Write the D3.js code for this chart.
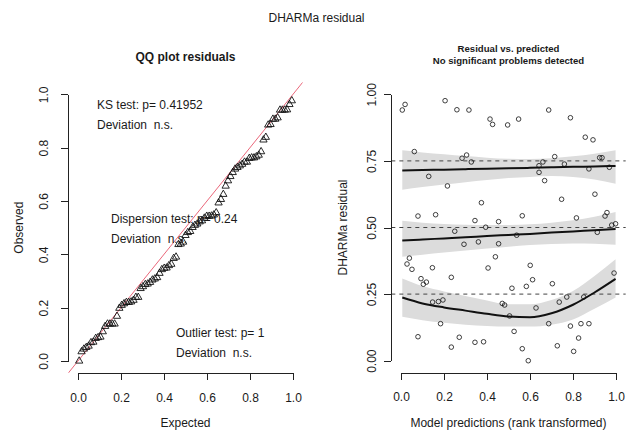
<!DOCTYPE html>
<html lang="en">

<head>
    <meta charset="UTF-8">
    <title>DHARMa residual</title>
    <script src="https://d3js.org/d3.v7.min.js"></script>
    <style>
        body {
            margin: 0;
            background: white;
        }

        svg text {
            font-family: "Liberation Sans", Arial, sans-serif;
            fill: #1a1a1a;
        }

        .axis path,
        .axis line {
            stroke: #222;
            stroke-width: 1;
            shape-rendering: crispEdges;
        }

        .axis text {
            font-size: 12px;
        }
    </style>
</head>

<body>
    <div id="chart"></div>
    <script>
        const width = 633;
        const height = 430;

        // model predictions (rank transformed) and scaled residuals, one entry per observation
        const predictions = [0.006, 0.019, 0.062, 0.079, 0.028, 0.039, 0.051, 0.093, 0.104, 0.118,
            0.079, 0.129, 0.146, 0.147, 0.161, 0.174, 0.195, 0.184, 0.205, 0.216,
            0.234, 0.234, 0.250, 0.260, 0.271, 0.284, 0.293, 0.305, 0.327, 0.316,
            0.344, 0.360, 0.344, 0.374, 0.384, 0.394, 0.405, 0.414, 0.426, 0.439,
            0.454, 0.454, 0.471, 0.482, 0.496, 0.505, 0.516, 0.526, 0.538, 0.547,
            0.564, 0.564, 0.583, 0.592, 0.601, 0.612, 0.628, 0.642, 0.642, 0.660,
            0.668, 0.687, 0.687, 0.704, 0.715, 0.727, 0.736, 0.747, 0.760, 0.771,
            0.788, 0.788, 0.803, 0.816, 0.826, 0.837, 0.850, 0.857, 0.874, 0.874,
            0.893, 0.902, 0.913, 0.924, 0.935, 0.949, 0.958, 0.969, 0.980, 0.998, 0.991];
        const residuals = [0.941, 0.962, 0.785, 0.543, 0.363, 0.385, 0.343, 0.308, 0.287, 0.295,
            0.090, 0.692, 0.349, 0.220, 0.548, 0.222, 0.228, 0.139, 0.976, 0.656,
            0.313, 0.051, 0.486, 0.942, 0.088, 0.760, 0.437, 0.772, 0.746, 0.941,
            0.526, 0.446, 0.069, 0.593, 0.071, 0.501, 0.348, 0.907, 0.887, 0.390,
            0.522, 0.439, 0.215, 0.209, 0.885, 0.168, 0.272, 0.110, 0.471, 0.907,
            0.544, 0.045, 0.279, 0.000, 0.358, 0.304, 0.198, 0.732, 0.707, 0.746,
            0.676, 0.941, 0.139, 0.289, 0.766, 0.056, 0.220, 0.606, 0.738, 0.239,
            0.912, 0.130, 0.035, 0.536, 0.085, 0.139, 0.239, 0.839, 0.720, 0.139,
            0.829, 0.625, 0.482, 0.762, 0.762, 0.543, 0.556, 0.726, 0.509, 0.514, 0.329];

        // quantile regression fits (0.25, 0.5, 0.75) with confidence bands
        const fitGrid = [0.006, 0.1, 0.2, 0.3, 0.4, 0.5, 0.6, 0.7, 0.8, 0.9, 0.998];
        const q25Fit = [0.237, 0.215, 0.200, 0.188, 0.176, 0.166, 0.163, 0.178, 0.210, 0.256, 0.307];
        const q25Hi = [0.309, 0.280, 0.260, 0.243, 0.226, 0.212, 0.212, 0.228, 0.262, 0.318, 0.381];
        const q25Lo = [0.165, 0.152, 0.142, 0.135, 0.130, 0.128, 0.128, 0.135, 0.155, 0.195, 0.237];
        const q50Fit = [0.451, 0.455, 0.459, 0.463, 0.468, 0.472, 0.476, 0.481, 0.485, 0.490, 0.494];
        const q50Hi = [0.525, 0.518, 0.513, 0.510, 0.509, 0.509, 0.512, 0.518, 0.527, 0.540, 0.558];
        const q50Lo = [0.390, 0.398, 0.406, 0.414, 0.421, 0.428, 0.434, 0.438, 0.440, 0.439, 0.435];
        const q75Fit = [0.714, 0.716, 0.717, 0.719, 0.721, 0.722, 0.724, 0.726, 0.728, 0.729, 0.731];
        const q75Hi = [0.790, 0.782, 0.775, 0.768, 0.762, 0.758, 0.757, 0.760, 0.767, 0.777, 0.790];
        const q75Lo = [0.642, 0.652, 0.661, 0.670, 0.678, 0.686, 0.690, 0.693, 0.690, 0.680, 0.664];
        const quantileLevels = [0.25, 0.5, 0.75];

        const qqTicks = [0, 0.2, 0.4, 0.6, 0.8, 1];
        const resYTicks = [0, 0.25, 0.5, 0.75, 1];

        const qqTests = [
            ["KS test: p= 0.41952", "Deviation  n.s."],
            ["Dispersion test: p= 0.24", "Deviation  n.s."],
            ["Outlier test: p= 1", "Deviation  n.s."]
        ];

        const svg = d3.select("#chart")
            .append("svg")
            .attr("width", width)
            .attr("height", height);

        // main title
        svg.append("text")
            .attr("x", width / 2)
            .attr("y", 22)
            .attr("text-anchor", "middle")
            .style("font-size", "12px")
            .text("DHARMa residual");

        // ---------- left panel: QQ plot ----------
        const xL = d3.scaleLinear().domain([0, 1]).range([78, 293]);
        const yL = d3.scaleLinear().domain([0, 1]).range([361, 94.3]);
        const padL = 0.045;

        svg.append("text")
            .attr("x", 185.5)
            .attr("y", 61)
            .attr("text-anchor", "middle")
            .style("font-size", "12px")
            .style("font-weight", "bold")
            .text("QQ plot residuals");

        svg.append("defs").append("clipPath")
            .attr("id", "clipL")
            .append("rect")
            .attr("x", xL(-padL))
            .attr("y", yL(1 + padL))
            .attr("width", xL(1 + padL) - xL(-padL))
            .attr("height", yL(-padL) - yL(1 + padL));

        // 1:1 line
        svg.append("line")
            .attr("clip-path", "url(#clipL)")
            .attr("x1", xL(-0.1)).attr("y1", yL(-0.1))
            .attr("x2", xL(1.1)).attr("y2", yL(1.1))
            .attr("stroke", "#e8566b")
            .attr("stroke-width", 0.9);

        const observed = residuals.slice().sort(d3.ascending);
        const n = observed.length;
        const tri = d3.symbol().type(d3.symbolTriangle).size(23);

        svg.append("g")
            .selectAll("path")
            .data(observed)
            .join("path")
            .attr("d", tri)
            .attr("transform", (d, i) => `translate(${xL((i + 0.5) / n)},${yL(d)})`)
            .attr("fill", "none")
            .attr("stroke", "#111")
            .attr("stroke-width", 0.9);

        const legendPos = [[97, 109], [111, 223], [176, 337]];
        qqTests.forEach((lines, k) => {
            lines.forEach((t, j) => {
                svg.append("text")
                    .attr("x", legendPos[k][0])
                    .attr("y", legendPos[k][1] + j * 20)
                    .style("font-size", "12px")
                    .style("white-space", "pre")
                    .text(t);
            });
        });

        svg.append("g")
            .attr("class", "axis")
            .attr("transform", `translate(0,${yL(-padL)})`)
            .call(d3.axisBottom(xL).tickValues(qqTicks).tickSize(7).tickSizeOuter(0)
                .tickPadding(13).tickFormat(d3.format(".1f")));

        const axisLeftL = svg.append("g")
            .attr("class", "axis")
            .attr("transform", `translate(${xL(-padL)},0)`)
            .call(d3.axisLeft(yL).tickValues(qqTicks).tickSize(7).tickSizeOuter(0)
                .tickFormat(d3.format(".1f")));
        axisLeftL.selectAll("text")
            .attr("x", null).attr("dy", null)
            .attr("text-anchor", "middle")
            .attr("transform", "translate(-20.5,0) rotate(-90)");

        svg.append("text")
            .attr("x", 185.5)
            .attr("y", 427)
            .attr("text-anchor", "middle")
            .style("font-size", "12px")
            .text("Expected");

        svg.append("text")
            .attr("transform", `translate(22.5,${yL(0.5)}) rotate(-90)`)
            .attr("text-anchor", "middle")
            .style("font-size", "12px")
            .text("Observed");

        // ---------- right panel: residual vs predicted ----------
        const xR = d3.scaleLinear().domain([0, 1]).range([401, 616]);
        const yR = d3.scaleLinear().domain([0, 1]).range([360.7, 94.3]);

        svg.append("text")
            .attr("x", 508.5)
            .attr("y", 51.5)
            .attr("text-anchor", "middle")
            .style("font-size", "9.6px")
            .style("font-weight", "bold")
            .text("Residual vs. predicted");
        svg.append("text")
            .attr("x", 508.5)
            .attr("y", 63.5)
            .attr("text-anchor", "middle")
            .style("font-size", "9.6px")
            .style("font-weight", "bold")
            .text("No significant problems detected");

        const bands = [[q25Lo, q25Hi], [q50Lo, q50Hi], [q75Lo, q75Hi]];
        const area = d3.area()
            .x((d, i) => xR(fitGrid[i]))
            .y0(d => yR(d[0]))
            .y1(d => yR(d[1]))
            .curve(d3.curveMonotoneX);

        svg.append("g")
            .selectAll("path")
            .data(bands)
            .join("path")
            .attr("d", b => area(b[0].map((lo, i) => [lo, b[1][i]])))
            .attr("fill", "#dcdcdc");

        svg.append("g")
            .selectAll("line")
            .data(quantileLevels)
            .join("line")
            .attr("x1", xR(-0.045))
            .attr("x2", xR(1.045))
            .attr("y1", d => yR(d))
            .attr("y2", d => yR(d))
            .attr("stroke", "#444")
            .attr("stroke-width", 1)
            .attr("stroke-dasharray", "4,4");

        const fitLine = d3.line()
            .x((d, i) => xR(fitGrid[i]))
            .y(d => yR(d))
            .curve(d3.curveMonotoneX);

        svg.append("g")
            .selectAll("path")
            .data([q25Fit, q50Fit, q75Fit])
            .join("path")
            .attr("d", fitLine)
            .attr("fill", "none")
            .attr("stroke", "#111")
            .attr("stroke-width", 2);

        svg.append("g")
            .selectAll("circle")
            .data(residuals)
            .join("circle")
            .attr("cx", (d, i) => xR(predictions[i]))
            .attr("cy", d => yR(d))
            .attr("r", 2.3)
            .attr("fill", "none")
            .attr("stroke", "#111")
            .attr("stroke-width", 0.8);

        svg.append("g")
            .attr("class", "axis")
            .attr("transform", `translate(0,${yR(-0.045)})`)
            .call(d3.axisBottom(xR).tickValues(qqTicks).tickSize(7).tickSizeOuter(0)
                .tickPadding(13).tickFormat(d3.format(".1f")));

        const axisLeftR = svg.append("g")
            .attr("class", "axis")
            .attr("transform", `translate(${xR(-0.048)},0)`)
            .call(d3.axisLeft(yR).tickValues(resYTicks).tickSize(7).tickSizeOuter(0)
                .tickFormat(d3.format(".2f")));
        axisLeftR.selectAll("text")
            .attr("x", null).attr("dy", null)
            .attr("text-anchor", "middle")
            .attr("transform", "translate(-15,0) rotate(-90)");

        svg.append("text")
            .attr("x", 508.5)
            .attr("y", 427)
            .attr("text-anchor", "middle")
            .style("font-size", "12px")
            .text("Model predictions (rank transformed)");

        svg.append("text")
            .attr("transform", `translate(346.5,${yR(0.5)}) rotate(-90)`)
            .attr("text-anchor", "middle")
            .style("font-size", "12px")
            .text("DHARMa residual");
    </script>
</body>

</html>
